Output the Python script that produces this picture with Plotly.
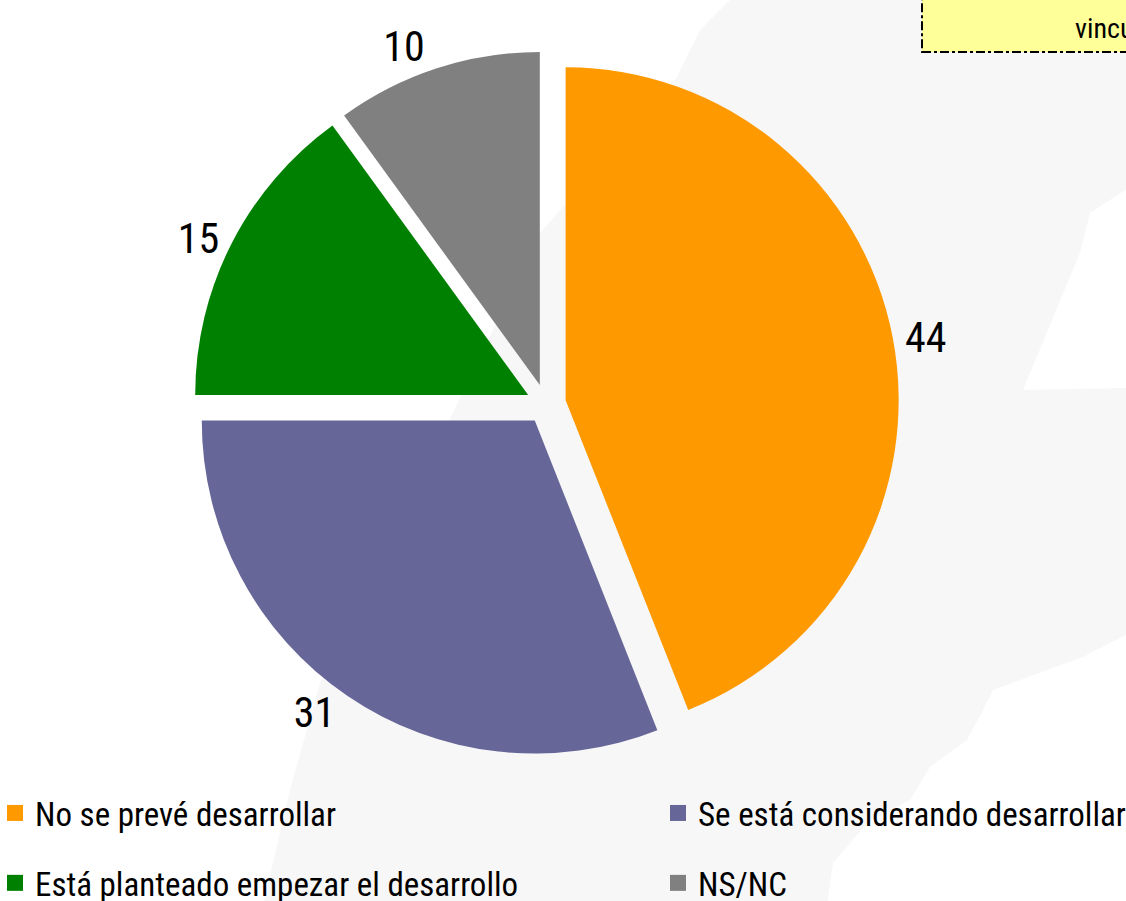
import plotly.graph_objects as go

# ---- data ----
categories = ["No se prevé desarrollar", "Se está considerando desarrollar",
              "Está planteado empezar el desarrollo", "NS/NC"]
values = [44, 31, 15, 10]
colors = ["#FF9900", "#666699", "#008000", "#808080"]
legend_columns = ["legend", "legend2", "legend", "legend2"]
note_lines = ["Empresas", "vinculadas"]

W, H = 1126, 901
FONT = "Liberation Sans Narrow, Arial Narrow, Roboto Condensed, DejaVu Sans Condensed, sans-serif"

# faint decorative background silhouette (pixel outline)
background_outline_px = [
    (730, 0), (1130, 0), (1130, 187), (1090, 213), (1080, 253), (1023, 390),
    (1130, 388), (1130, 633), (1083, 657), (993, 690), (983, 710), (967, 740),
    (930, 767), (910, 800), (867, 823), (833, 863), (827, 905), (263, 905),
    (290, 790), (320, 683), (430, 460), (540, 233), (677, 77), (700, 30),
]


def px_to_paper(x, y):
    return x / W, 1 - y / H


path = "M " + " L ".join(
    "{:.4f},{:.4f}".format(*px_to_paper(x, y)) for x, y in background_outline_px
) + " Z"

fig = go.Figure()
fig.add_trace(go.Pie(
    labels=categories,
    values=values,
    sort=False,
    direction="clockwise",
    rotation=0,
    pull=[0.06] * len(values),
    marker=dict(colors=colors, line=dict(width=0)),
    textinfo="value",
    textposition="outside",
    outsidetextfont=dict(size=42, color="black", family=FONT),
    domain=dict(x=[0.1714, 0.7984], y=[0.1598, 0.9434]),
    hoverinfo="label+value",
    showlegend=False,
))

# legend entries (two columns)
for name, col, leg in zip(categories, colors, legend_columns):
    fig.add_trace(go.Scatter(
        x=[None], y=[None], mode="markers", name=name,
        marker=dict(symbol="square", size=16, color=col),
        legend=leg, legendgroup=name, showlegend=True, hoverinfo="skip",
    ))

fig.add_shape(type="path", path=path, xref="paper", yref="paper",
              fillcolor="#F7F7F7", line=dict(width=0), layer="below")

bx0, by0 = px_to_paper(922, 52)
fig.add_shape(type="rect", xref="paper", yref="paper",
              x0=bx0, x1=1.05, y0=by0, y1=1.05,
              fillcolor="#FFFF99", line=dict(color="black", width=2, dash="dashdot"),
              layer="below")
for line_text, bottom_px in zip(note_lines, [2, 47.5]):
    ax, ay = px_to_paper(1073, bottom_px)
    fig.add_annotation(xref="paper", yref="paper", x=ax, y=ay,
                       xanchor="left", yanchor="bottom", align="left",
                       text=line_text, showarrow=False,
                       font=dict(size=28, color="black", family=FONT))

leg_common = dict(
    orientation="v",
    xanchor="left", yanchor="top",
    font=dict(size=33, color="black", family=FONT),
    tracegroupgap=24,
    itemsizing="trace",
    bgcolor="rgba(0,0,0,0)",
)
l1x, l1y = px_to_paper(-5, 785)
l2x, _ = px_to_paper(658, 785)

fig.update_layout(
    width=W, height=H,
    margin=dict(l=0, r=0, t=0, b=0, autoexpand=False),
    paper_bgcolor="white",
    plot_bgcolor="rgba(0,0,0,0)",
    font=dict(family=FONT, color="black"),
    showlegend=True,
    xaxis=dict(visible=False),
    yaxis=dict(visible=False),
    legend=dict(x=l1x, y=l1y, **leg_common),
    legend2=dict(x=l2x, y=l1y, **leg_common),
)

fig.write_html("out.html", config={"displayModeBar": False},
               post_script="document.body.style.margin='0px';")
